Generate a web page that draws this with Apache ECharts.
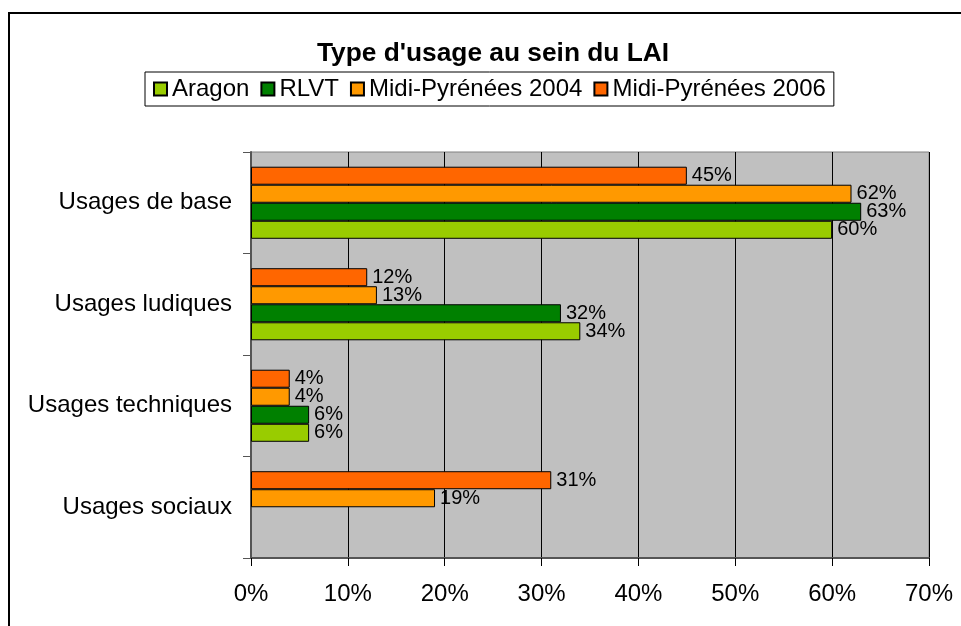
<!DOCTYPE html>
<html>
<head>
<meta charset="utf-8">
<script src="https://cdn.jsdelivr.net/npm/echarts@6/dist/echarts.min.js"></script>
<style>
html,body{margin:0;padding:0;background:#fff;}
#chart{width:961px;height:626px;}
</style>
</head>
<body>
<div id="chart"></div>
<script>
var categories = ['Usages de base', 'Usages ludiques', 'Usages techniques', 'Usages sociaux'];
var seriesNames = ['Aragon', 'RLVT', 'Midi-Pyrénées 2004', 'Midi-Pyrénées 2006'];
var aragon = [60, 34, 6, null];
var rlvt = [63, 32, 6, null];
var mp2004 = [62, 13, 4, 19];
var mp2006 = [45, 12, 4, 31];
var xTicks = [0, 10, 20, 30, 40, 50, 60, 70];
var colors = {'Aragon': '#99CC00', 'RLVT': '#008000', 'Midi-Pyrénées 2004': '#FF9900', 'Midi-Pyrénées 2006': '#FF6600'};

var FONT = '"Liberation Sans", Arial, sans-serif';
var chart = echarts.init(document.getElementById('chart'), null, {renderer: 'canvas'});

function mk(name, data) {
  return {
    name: name,
    type: 'bar',
    data: data,
    barGap: '0%',
    barCategoryGap: '29%',
    itemStyle: {color: colors[name], borderColor: '#000', borderWidth: 1},
    label: {
      show: true, position: 'right', distance: 5,
      formatter: function (p) { return p.value + '%'; },
      color: '#000', fontFamily: FONT, fontSize: 20
    },
    emphasis: {disabled: true},
    animation: false
  };
}

chart.setOption({
  animation: false,
  backgroundColor: '#fff',
  title: {
    text: "Type d'usage au sein du LAI",
    left: 317, top: 41, padding: 0,
    textStyle: {fontFamily: FONT, fontSize: 26.3, fontWeight: 'bold', color: '#000'}
  },
  legend: {
    data: seriesNames,
    left: 145, top: 72,
    padding: [5, 8],
    itemGap: 11,
    itemWidth: 13, itemHeight: 13,
    icon: 'rect',
    borderColor: '#000', borderWidth: 1,
    backgroundColor: '#fff',
    textStyle: {fontFamily: FONT, fontSize: 24, color: '#000'},
    selectedMode: false
  },
  grid: {
    left: 251, right: 32, top: 152, bottom: 68,
    show: true, backgroundColor: '#C0C0C0', borderColor: '#808080', borderWidth: 1
  },
  xAxis: {
    type: 'value', min: xTicks[0], max: xTicks[xTicks.length - 1], interval: 10,
    axisLine: {show: true, lineStyle: {color: '#555', width: 2}},
    axisTick: {show: true, length: 8, lineStyle: {color: '#000'}},
    axisLabel: {formatter: '{value}%', fontFamily: FONT, fontSize: 24, color: '#000', margin: 24},
    splitLine: {show: true, lineStyle: {color: '#000', width: 1}}
  },
  yAxis: {
    type: 'category', data: categories, inverse: true,
    axisLine: {show: true, lineStyle: {color: '#555', width: 2}},
    axisTick: {show: true, length: 8, lineStyle: {color: '#555'}},
    axisLabel: {fontFamily: FONT, fontSize: 24, color: '#000', margin: 19, padding: [8, 0, 0, 0]},
    splitLine: {show: false}
  },
  graphic: [{
    type: 'polyline',
    shape: {points: [[9, 626], [9, 13], [961, 13]]},
    style: {stroke: '#000', lineWidth: 2, fill: null},
    silent: true
  }],
  series: [
    mk('Midi-Pyrénées 2006', mp2006),
    mk('Midi-Pyrénées 2004', mp2004),
    mk('RLVT', rlvt),
    mk('Aragon', aragon)
  ]
});
</script>
</body>
</html>
